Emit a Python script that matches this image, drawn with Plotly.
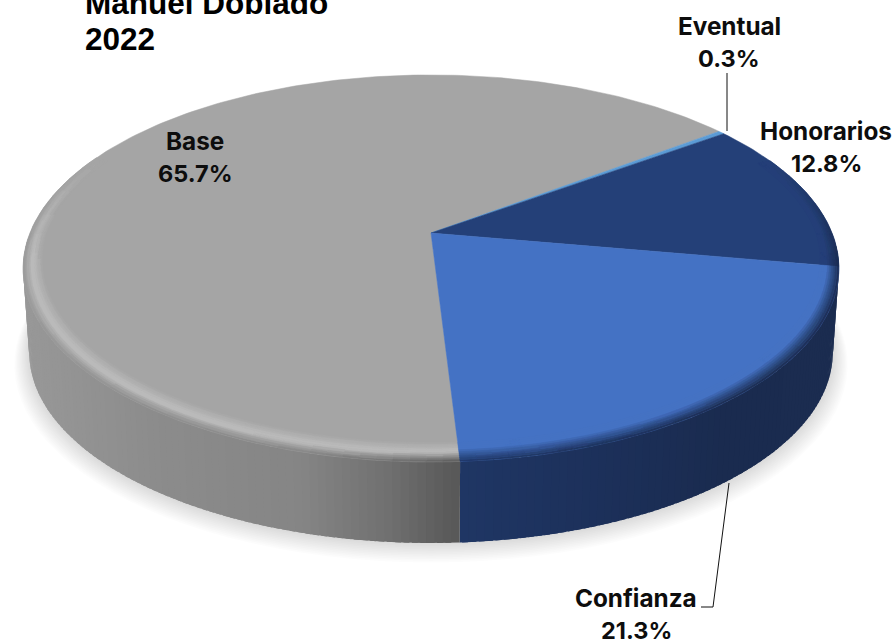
import math
import plotly.graph_objects as go

# --- data ---
categories = ["Base", "Eventual", "Honorarios", "Confianza"]   # clockwise order
values = [65.7, 0.3, 12.8, 21.3]
title_lines = ["Manuel Doblado", "2022"]
top_colors = {"Base": (165, 165, 165), "Eventual": (91, 155, 213),
              "Honorarios": (36, 64, 120), "Confianza": (68, 114, 196)}
start_angle = 176.6  # clockwise from the far side

# --- projection of the disc ---
CX, CY, CY_BOT = 431.0, 233.0, 317.5
K, A, B = 0.183, 401.0, 187.0
S_BOT = 0.985


def proj(theta, r=1.0, cy=CY, s=1.0):
    t = math.radians(theta)
    u, v = r * math.sin(t), r * math.cos(t)
    w = 1 + K * v
    return CX + s * A * u / w, cy - s * B * v / w


def mix(a, b, t):
    t = max(0.0, min(1.0, t))
    return tuple(a[i] + (b[i] - a[i]) * t for i in range(3))


def css(c):
    return "rgb(%d,%d,%d)" % tuple(round(x) for x in c)


def interp(stops, x):
    if x <= stops[0][0]:
        return stops[0][1]
    for (x0, c0), (x1, c1) in zip(stops, stops[1:]):
        if x <= x1:
            return mix(c0, c1, (x - x0) / (x1 - x0))
    return stops[-1][1]


GRAY_SIDE = [(25, (152, 152, 152)), (150, (140, 140, 140)), (300, (133, 133, 133)),
             (385, (112, 112, 112)), (460, (86, 86, 86))]
BLUE_SIDE = [(458, (31, 54, 100)), (600, (28, 48, 90)), (720, (26, 43, 79)), (840, (27, 44, 80))]


def side_color(name, x):
    return interp(GRAY_SIDE if name == "Base" else BLUE_SIDE, x)


# slice spans
total = sum(values)
spans = []
a0 = start_angle
for name, val in zip(categories, values):
    a1 = a0 + 360.0 * val / total
    spans.append((name, a0, a1))
    a0 = a1


def arc_angles(a0, a1, step):
    n = max(1, int(math.ceil((a1 - a0) / step)))
    return [a0 + (a1 - a0) * i / n for i in range(n + 1)]


fig = go.Figure()


def poly(xs, ys, color, line=0.7):
    fig.add_trace(go.Scatter(
        x=xs, y=ys, mode="lines", fill="toself", fillcolor=color,
        line=dict(color=color, width=line), hoverinfo="skip", showlegend=False))


# soft shadow under the disc
for i in range(12, 0, -1):
    pts = [proj(t, 1.0 + 0.003 * i, CY_BOT + 0.8 * i, S_BOT) for t in range(0, 361, 3)]
    poly([p[0] for p in pts], [p[1] for p in pts], "rgba(0,0,0,0.012)", line=0)

# outer wall: overlapping strips, drawn from right to left
wall = []
for name, a0, a1 in spans:
    for lo, hi in [(a0, a1), (a0 - 360, a1 - 360)]:
        lo2, hi2 = max(lo, 92.0), min(hi, 268.0)
        if hi2 > lo2:
            wall.append((name, lo2, hi2))
wall.sort(key=lambda w: w[1])
for name, lo2, hi2 in wall:
    ang = arc_angles(lo2, hi2, 1.0)
    for t0, t1 in zip(ang, ang[1:]):
        t2 = min(t1 + 0.7, hi2)
        p = [proj(t0), proj(t2), proj(t2, cy=CY_BOT, s=S_BOT), proj(t0, cy=CY_BOT, s=S_BOT)]
        xm = sum(q[0] for q in p) / 4
        poly([q[0] for q in p] + [p[0][0]], [q[1] for q in p] + [p[0][1]],
             css(side_color(name, xm)), line=0)

# top face
for name, a0, a1 in spans:
    pts = [(CX, CY)] + [proj(t) for t in arc_angles(a0, a1, 1.0)] + [(CX, CY)]
    poly([p[0] for p in pts], [p[1] for p in pts], css(top_colors[name]), line=0.5)

# bevelled rim
RINGS = 10
HILITE = (190, 190, 190)
buckets = {}


def bevel_weight(theta):
    t = theta % 360
    if t < 65 or t > 295:
        return 0.0
    if t < 100:
        return (t - 65) / 35
    if t > 262:
        return (295 - t) / 33
    return 1.0


def r_inner(theta):
    return 1 - (0.04 + 0.03 * max(0.0, -math.cos(math.radians(theta))))


for name, a0, a1 in spans:
    ang = arc_angles(a0, a1, 2.0)
    for t0, t1 in zip(ang, ang[1:]):
        tm = (t0 + t1) / 2
        wgt = bevel_weight(tm)
        if wgt <= 0:
            continue
        rin = r_inner(tm)
        for k in range(RINGS):
            r0 = rin + (1 - rin) * k / RINGS
            r1 = rin + (1 - rin) * (k + 1) / RINGS
            f = (k + 0.5) / RINGS
            xm = proj(tm, (r0 + r1) / 2)[0]
            base = top_colors[name]
            edge = side_color(name, xm)
            if name == "Base":
                c = mix(base, HILITE, f / 0.5) if f < 0.5 else mix(HILITE, edge, (f - 0.5) / 0.5)
            else:
                c = base if f < 0.35 else mix(base, edge, (f - 0.35) / 0.65)
            c = mix(base, c, wgt)
            key = css(tuple(round(x / 3) * 3 for x in c))
            p = [proj(t0, r0), proj(t1, r0), proj(t1, r1), proj(t0, r1), proj(t0, r0)]
            xs, ys = buckets.setdefault(key, ([], []))
            xs += [q[0] for q in p] + [None]
            ys += [q[1] for q in p] + [None]

for key, (xs, ys) in buckets.items():
    poly(xs, ys, key, line=0.5)

# leader lines
leaders = [([727, 727], [73, 131]), ([729, 713, 701], [483, 607, 607])]
for xs, ys in leaders:
    fig.add_trace(go.Scatter(x=xs, y=ys, mode="lines", line=dict(color="#111111", width=1),
                             hoverinfo="skip", showlegend=False))

# labels
label_pos = {"Base": (195, 141, 173), "Eventual": (729, 26, 58),
             "Honorarios": (826, 131, 163), "Confianza": (636, 598, 630)}
annotations = []
for name, val in zip(categories, values):
    x, y1, y2 = label_pos[name]
    for txt, y, size in ((name, y1, 24.3), (f"{val}%", y2, 23.5)):
        annotations.append(dict(x=x, y=y, text=txt, showarrow=False, xanchor="center",
                                yanchor="middle",
                                font=dict(family="Inter, Liberation Sans, sans-serif", size=size,
                                          color="#0d0d0d", weight=700)))
for txt, y in zip(title_lines, (3, 39)):
    annotations.append(dict(x=83, y=y, text=txt, showarrow=False, xanchor="left", yanchor="middle",
                            font=dict(family="Liberation Sans, Arial, sans-serif", size=31.5,
                                      color="#000000", weight=700)))

fig.update_layout(
    width=896, height=640, margin=dict(l=0, r=0, t=0, b=0),
    paper_bgcolor="white", plot_bgcolor="white", showlegend=False,
    xaxis=dict(range=[0, 896], visible=False, fixedrange=True),
    yaxis=dict(range=[640, 0], visible=False, fixedrange=True),
    annotations=annotations,
)
fig.write_html("out.html", config=dict(displayModeBar=False),
               post_script="document.body.style.margin='0';document.body.style.overflow='hidden';")
